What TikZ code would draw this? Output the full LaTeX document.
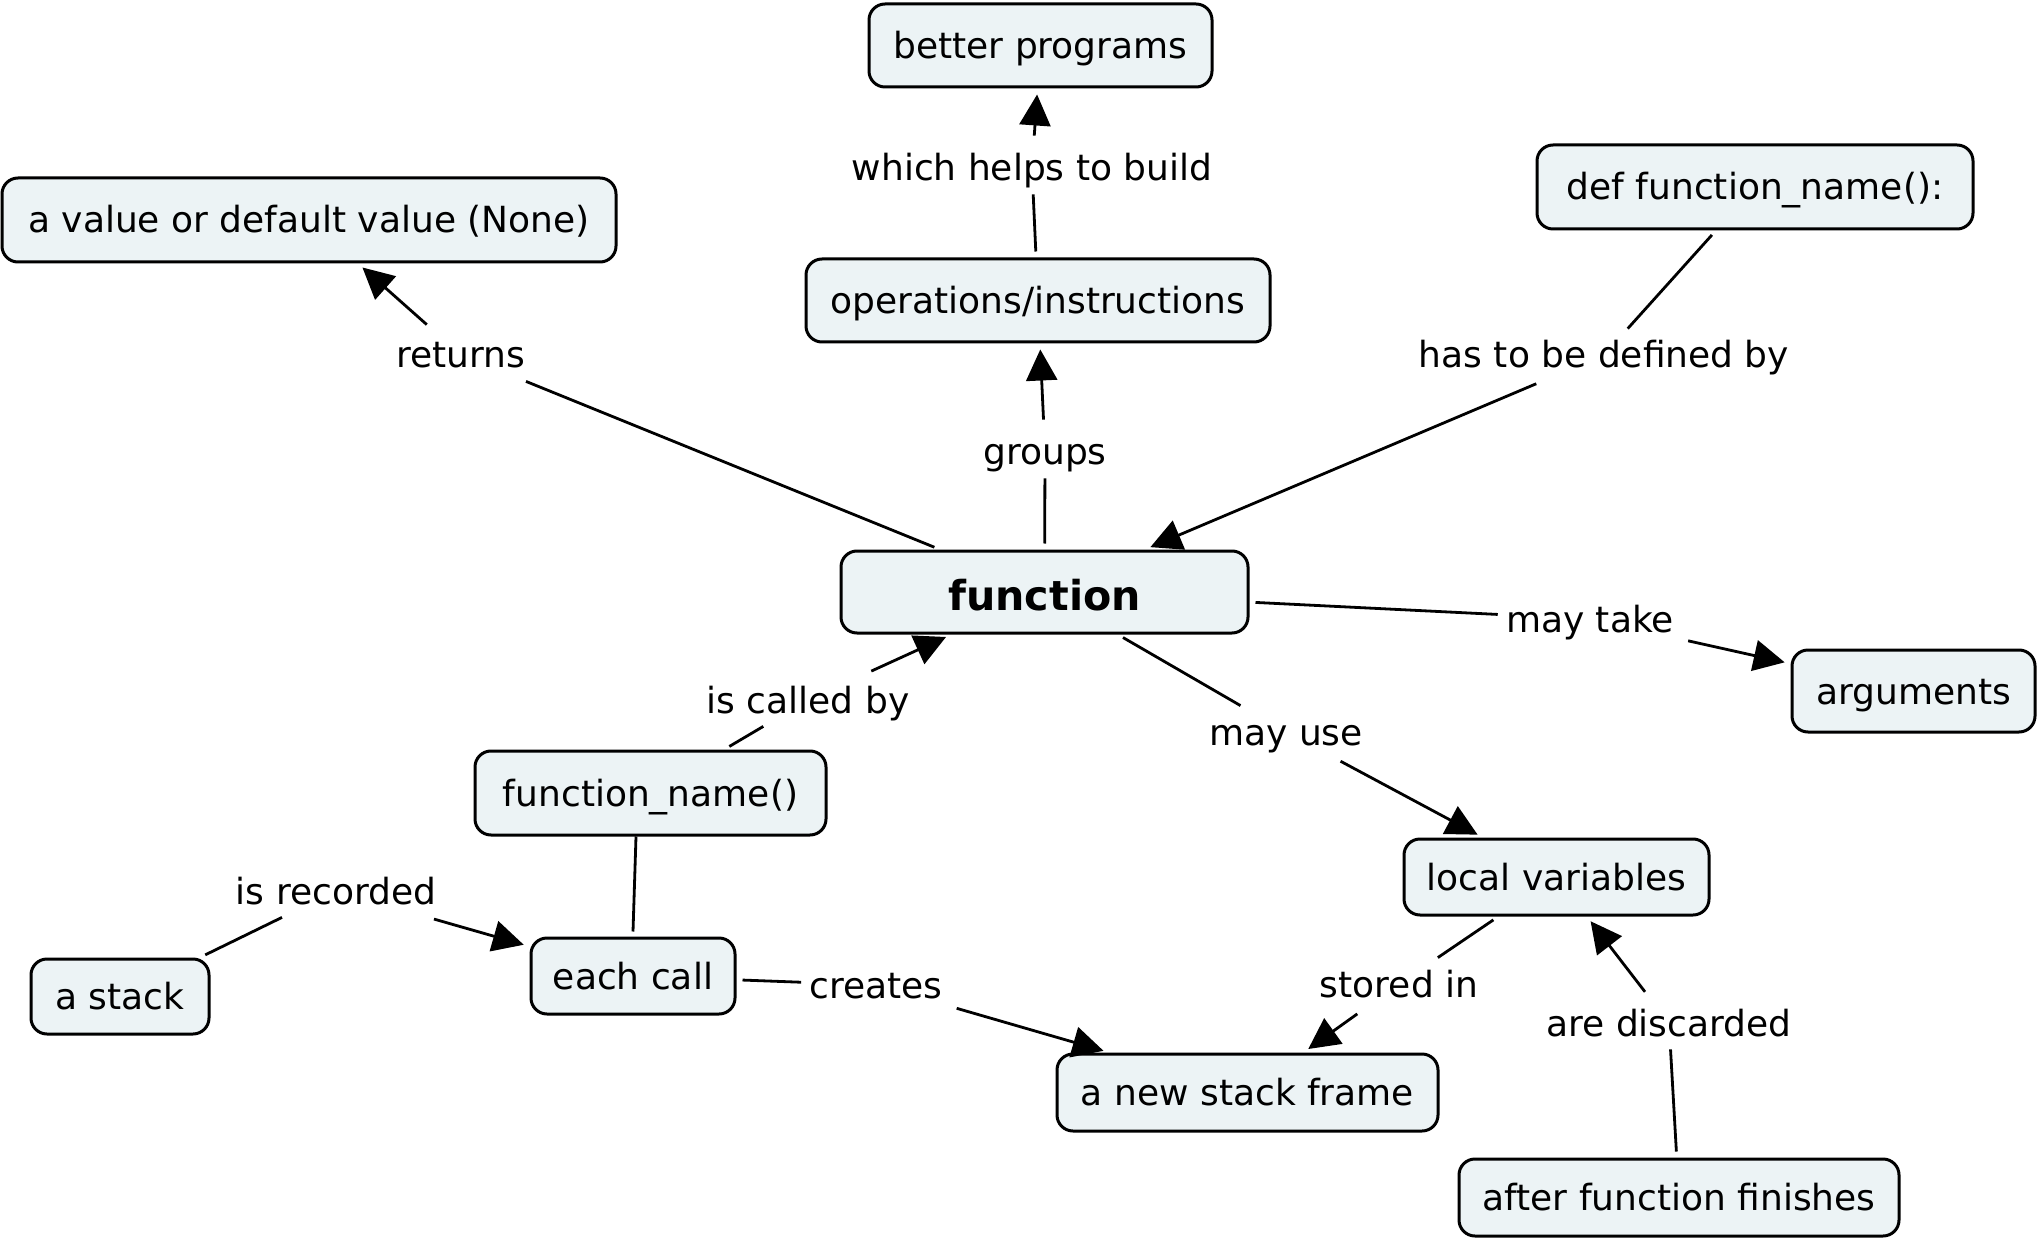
\documentclass[tikz,border=0pt]{standalone}
\usepackage{fontspec}
\setmainfont{DejaVu Sans}
\usetikzlibrary{arrows.meta}
\definecolor{cfill}{RGB}{236,243,245}
\begin{document}
\begin{tikzpicture}[x=0.5pt,y=-0.5pt,
  concept/.style={draw=black, line width=1.5pt, rounded corners=8pt, fill=cfill,
    font=\fontsize{18}{22}\selectfont, text height=15.5pt, text depth=2.5pt, inner sep=0pt},
  lbl/.style={font=\fontsize{18}{22}\selectfont, text height=15.5pt, text depth=2.5pt, inner sep=4pt},
  conn/.style={line width=1.4pt, shorten <=3pt},
  arr/.style={conn, -{Triangle[length=15.5pt,width=15.5pt]}, shorten >=3pt}]
\useasboundingbox (0,0) rectangle (2043,1240);

% concepts
\node[concept, minimum width=171.5pt, minimum height=41.5pt] (better) at (1040.5,45.5) {better programs};
\node[concept, minimum width=307pt, minimum height=42pt] (avalue) at (309,220) {a value or default value (None)};
\node[concept, minimum width=232pt, minimum height=41.5pt] (ops) at (1038,300.5) {operations/instructions};
\node[concept, minimum width=218pt, minimum height=42pt] (def) at (1755,187) {def function\_name():};
\node[concept, minimum width=203.5pt, minimum height=41pt, font=\fontsize{20.6}{24}\bfseries, text height=18pt, text depth=0pt] (func) at (1044.5,592) {function};
\node[concept, minimum width=121.5pt, minimum height=41pt] (args) at (1913.5,691) {arguments};
\node[concept, minimum width=152.5pt, minimum height=38pt] (locv) at (1556.5,877) {local variables};
\node[concept, minimum width=190.5pt, minimum height=38.5pt] (frame) at (1247.5,1092.5) {a new stack frame};
\node[concept, minimum width=220pt, minimum height=38.5pt] (after) at (1679,1197.5) {after function finishes};
\node[concept, minimum width=175.5pt, minimum height=42pt] (fname) at (650.5,793) {function\_name()};
\node[concept, minimum width=89pt, minimum height=37.5pt] (stack) at (120,996.5) {a stack};
\node[concept, minimum width=102pt, minimum height=38pt] (each) at (633,976) {each call};

% linking phrases
\node[lbl] (lwhich) at (1032,168) {which helps to build};
\node[lbl] (lreturns) at (461,355) {returns};
\node[lbl] (lgroups) at (1045,452) {groups};
\node[lbl] (ldef) at (1604,355) {has to be defined by};
\node[lbl] (ltake) at (1590,619) {may take};
\node[lbl] (lcalled) at (808,700) {is called by};
\node[lbl] (luse) at (1286,732) {may use};
\node[lbl] (lrec) at (336,891) {is recorded};
\node[lbl] (lcreates) at (876,985) {creates};
\node[lbl] (lstored) at (1399,984) {stored in};
\node[lbl] (ldisc) at (1669,1023) {are discarded};

% connectors
\draw[conn] (func) -- (lreturns);
\draw[arr] (lreturns) -- (avalue);
\draw[conn] (func) -- (lgroups);
\draw[arr] (lgroups) -- (ops);
\draw[conn] (ops) -- (lwhich);
\draw[arr] (lwhich) -- (better);
\draw[conn] (def) -- (ldef);
\draw[arr] (ldef) -- (func);
\draw[conn] (func) -- (ltake);
\draw[arr] (ltake) -- (args);
\draw[conn] (func) -- (luse);
\draw[arr] (luse) -- (locv);
\draw[conn] (fname) -- (lcalled);
\draw[arr] (lcalled) -- (func);
\draw[line width=1.4pt] ([xshift=-7.25pt]fname.south) -- ([yshift=2.5pt]each.north);
\draw[conn] (stack) -- (lrec);
\draw[arr] (lrec) -- (each);
\draw[conn] (each) -- (lcreates);
\draw[arr] (lcreates) -- (frame);
\draw[conn] (locv) -- (lstored);
\draw[arr] (lstored) -- (frame);
\draw[conn] (after) -- (ldisc);
\draw[arr] (ldisc) -- (locv);
\end{tikzpicture}
\end{document}
